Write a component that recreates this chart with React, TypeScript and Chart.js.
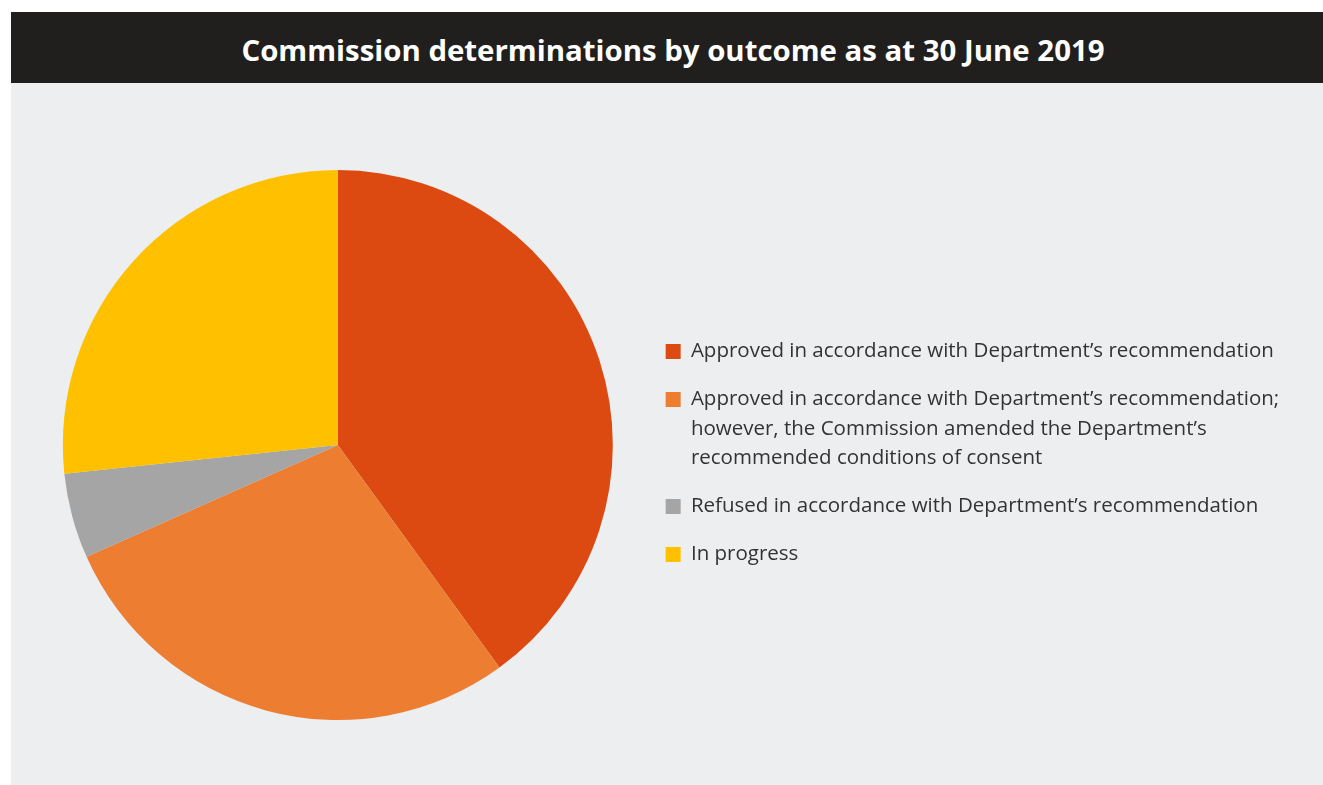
import React, { useEffect, useRef } from "react";
import { Chart, registerables } from "chart.js";

Chart.register(...registerables);

const TITLE = "Commission determinations by outcome as at 30 June 2019";

const categories: string[][] = [
  ["Approved in accordance with Department\u2019s recommendation"],
  [
    "Approved in accordance with Department\u2019s recommendation;",
    "however, the Commission amended the Department\u2019s",
    "recommended conditions of consent",
  ],
  ["Refused in accordance with Department\u2019s recommendation"],
  ["In progress"],
];

const determinations: number[] = [24, 17, 3, 16];

const sliceColors: string[] = ["#DC4A11", "#ED7D31", "#A5A5A5", "#FFC000"];

const frameBackground = {
  id: "frameBackground",
  beforeDraw(chart: any) {
    const { ctx, width, height } = chart;
    ctx.save();
    ctx.fillStyle = "#EDEEF0";
    ctx.fillRect(0, 0, width, height);
    ctx.restore();
  },
};

export default function App() {
  const canvasRef = useRef<HTMLCanvasElement | null>(null);

  useEffect(() => {
    if (!canvasRef.current) return;
    const chart = new Chart(canvasRef.current, {
      type: "pie",
      data: {
        labels: categories as any,
        datasets: [
          {
            data: determinations,
            backgroundColor: sliceColors,
            borderWidth: 0,
          },
        ],
      },
      options: {
        animation: false,
        responsive: true,
        maintainAspectRatio: false,
        layout: {
          padding: { left: 17.5, right: 33.75, top: 87, bottom: 65 },
        },
        plugins: {
          title: { display: false },
          legend: {
            display: true,
            position: "right",
            fullSize: false,
            maxWidth: 800,
            title: {
              display: true,
              text: "",
              font: { size: 10, lineHeight: 1 },
              padding: { top: 15, bottom: 0 },
            },
            labels: {
              boxWidth: 15,
              boxHeight: 15,
              padding: 18.5,
              color: "#333333",
              font: { family: "Open Sans", size: 20.5, lineHeight: 29.5 / 20.5 },
            },
          },
          tooltip: { enabled: false },
        },
      },
      plugins: [frameBackground],
    });
    return () => chart.destroy();
  }, []);

  return (
    <div
      style={{
        position: "absolute",
        left: 11,
        top: 12,
        width: 1312,
        height: 773,
      }}
    >
      <div
        style={{
          boxSizing: "border-box",
          height: 71,
          paddingTop: 17.5,
          paddingLeft: 12,
          background: "#201F1D",
          color: "#FFFFFF",
          fontFamily: "'Open Sans', sans-serif",
          fontWeight: 700,
          fontSize: 29.4,
          lineHeight: "normal",
          textAlign: "center",
          whiteSpace: "nowrap",
        }}
      >
        {TITLE}
      </div>
      <div style={{ position: "relative", width: 1312, height: 702 }}>
        <canvas ref={canvasRef} />
      </div>
    </div>
  );
}
